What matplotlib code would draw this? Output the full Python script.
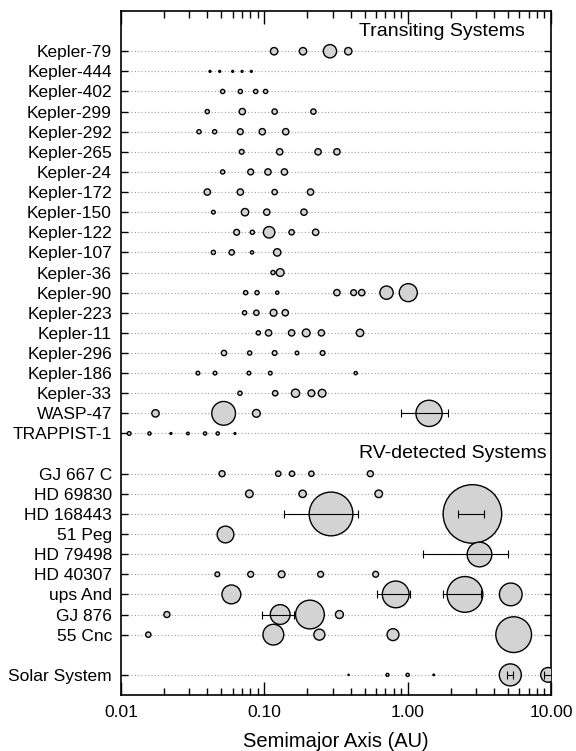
import numpy as np
import matplotlib
matplotlib.use('Agg')
import matplotlib.pyplot as plt
from matplotlib.ticker import FixedLocator, FixedFormatter, LogLocator, NullFormatter

plt.rcParams['font.family'] = ['Liberation Sans', 'DejaVu Sans']

# ---- Data: semimajor axis (AU), planet mass (Earth masses) ----
transit_systems = ['Kepler-79', 'Kepler-444', 'Kepler-402', 'Kepler-299',
                   'Kepler-292', 'Kepler-265', 'Kepler-24', 'Kepler-172',
                   'Kepler-150', 'Kepler-122', 'Kepler-107', 'Kepler-36',
                   'Kepler-90', 'Kepler-223', 'Kepler-11', 'Kepler-296',
                   'Kepler-186', 'Kepler-33', 'WASP-47', 'TRAPPIST-1']
rv_systems = ['GJ 667 C', 'HD 69830', 'HD 168443', '51 Peg', 'HD 79498',
              'HD 40307', 'ups And', 'GJ 876', '55 Cnc']
solar_systems = ['Solar System']

semimajor = {
    'Kepler-79': [0.117, 0.186, 0.287, 0.385],
    'Kepler-444': [0.0418, 0.0488, 0.0601, 0.0699, 0.0812],
    'Kepler-402': [0.0512, 0.068, 0.087, 0.102],
    'Kepler-299': [0.040, 0.0702, 0.118, 0.220],
    'Kepler-292': [0.035, 0.045, 0.068, 0.0968, 0.141],
    'Kepler-265': [0.0695, 0.128, 0.237, 0.321],
    'Kepler-24': [0.0512, 0.0803, 0.106, 0.138],
    'Kepler-172': [0.040, 0.068, 0.118, 0.210],
    'Kepler-150': [0.0441, 0.0733, 0.104, 0.189],
    'Kepler-122': [0.0641, 0.0825, 0.108, 0.155, 0.228],
    'Kepler-107': [0.0441, 0.0592, 0.082, 0.123],
    'Kepler-36': [0.115, 0.129],
    'Kepler-90': [0.0741, 0.0889, 0.123, 0.321, 0.420, 0.478, 0.712, 1.01],
    'Kepler-223': [0.0728, 0.088, 0.116, 0.140],
    'Kepler-11': [0.0908, 0.107, 0.155, 0.196, 0.250, 0.465],
    'Kepler-296': [0.0523, 0.079, 0.118, 0.169, 0.255],
    'Kepler-186': [0.0344, 0.0453, 0.0781, 0.110, 0.434],
    'Kepler-33': [0.0676, 0.119, 0.165, 0.213, 0.253],
    'WASP-47': [0.0174, 0.052, 0.088, 1.41],
    'TRAPPIST-1': [0.0114, 0.0158, 0.0223, 0.0293, 0.0386, 0.0473, 0.0624],
    'GJ 667 C': [0.0507, 0.125, 0.156, 0.213, 0.549],
    'HD 69830': [0.0786, 0.185, 0.628],
    'HD 168443': [0.292, 2.83],
    '51 Peg': [0.0532],
    'HD 79498': [3.13],
    'HD 40307': [0.047, 0.0803, 0.132, 0.247, 0.598],
    'ups And': [0.0589, 0.825, 2.51, 5.24],
    'GJ 876': [0.0209, 0.129, 0.208, 0.334],
    '55 Cnc': [0.0155, 0.1156, 0.242, 0.790, 5.49],
    'Solar System': [0.387, 0.723, 1.0, 1.52, 5.20, 9.54],
}

mass = {
    'Kepler-79': [12, 12, 70, 12],
    'Kepler-444': [0.2, 0.2, 0.2, 0.2, 0.2],
    'Kepler-402': [2.2, 2.2, 2.2, 2.2],
    'Kepler-299': [2.2, 7.5, 4.5, 4.5],
    'Kepler-292': [2.2, 2.2, 6, 7.5, 7.5],
    'Kepler-265': [3.2, 7.5, 7.5, 7.5],
    'Kepler-24': [2.2, 6, 7.5, 7.5],
    'Kepler-172': [7.5, 7.5, 4.5, 7.5],
    'Kepler-150': [1.5, 12, 7.5, 7.5],
    'Kepler-122': [6, 2.2, 45, 4.5, 7.5],
    'Kepler-107': [2.2, 4.5, 1.0, 12],
    'Kepler-36': [2.2, 14],
    'Kepler-90': [2.2, 2.2, 1.0, 7.5, 6, 7.5, 70, 175],
    'Kepler-223': [2.2, 4.5, 9.5, 7.5],
    'Kepler-11': [2.2, 7.5, 7.5, 14, 7.5, 12],
    'Kepler-296': [4.5, 2.2, 3.2, 1.5, 3.2],
    'Kepler-186': [1.5, 1.5, 1.5, 1.5, 1.0],
    'Kepler-33': [2.2, 4.5, 17, 9.5, 14],
    'WASP-47': [12, 400, 14, 540],
    'TRAPPIST-1': [1.5, 1.0, 0.2, 0.5, 1.0, 1.0, 0.2],
    'GJ 667 C': [6.5, 4.5, 4.5, 4.5, 6.5],
    'HD 69830': [13, 12, 13],
    'HD 168443': [2500, 6000],
    '51 Peg': [140],
    'HD 79498': [450],
    'HD 40307': [3.2, 6, 9.5, 6, 6],
    'ups And': [200, 570, 1360, 350],
    'GJ 876': [6.5, 230, 710, 15],
    '55 Cnc': [4.5, 267, 40, 50, 1360],
    'Solar System': [0.055, 0.815, 1.0, 0.107, 318, 95],
}

# eccentricity, only for orbits drawn with a periastron-apastron bar
ecc = {
    'WASP-47': [0, 0, 0, 0.36],
    'HD 168443': [0.53, 0.21],
    'HD 79498': [0.59],
    'ups And': [0, 0.26, 0.30, 0],
    'GJ 876': [0, 0.25, 0, 0],
    'Solar System': [0, 0, 0, 0, 0.05, 0.06],
}

# ---- Row layout: groups separated by one blank row ----
rows = {}
n_total = len(transit_systems) + len(rv_systems) + len(solar_systems) + 2
pos = n_total - 1
for group in (transit_systems, rv_systems, solar_systems):
    for name in group:
        rows[name] = pos
        pos -= 1
    pos -= 1

DPI = 100
fig = plt.figure(figsize=(5.76, 7.51), dpi=DPI)
ax = fig.add_axes([121 / 576, 1 - 695 / 751, 430 / 576, 684 / 751])

fill_color = '#d3d3d3'


def marker_area(m):
    # marker diameter scales with mass^(1/3) (Jupiter ~22 px)
    d_px = 22.0 * (np.asarray(m) / 318.0) ** (1.0 / 3.0)
    d_pt = d_px * 72.0 / DPI
    return d_pt ** 2


for name, y in rows.items():
    a = np.array(semimajor[name])
    m = np.array(mass[name])
    ax.scatter(a, np.full(len(a), y), s=marker_area(m), facecolor=fill_color,
               edgecolor='black', linewidths=1.0, zorder=3)
    if name in ecc:
        e = np.array(ecc[name])
        sel = e > 0
        ax.errorbar(a[sel], np.full(sel.sum(), y),
                    xerr=[a[sel] * e[sel], a[sel] * e[sel]],
                    fmt='none', ecolor='black', elinewidth=0.8,
                    capsize=2.6, capthick=0.8, zorder=4)

ax.set_xscale('log')
ax.set_xlim(0.01, 10)
ax.set_ylim(-1, n_total + 1)

names = list(rows.keys())
ax.set_yticks([rows[n] for n in names])
ax.set_yticklabels(names)
ax.grid(axis='y', color='#a0a0a0', linestyle=(0, (1, 2)), linewidth=0.8,
        zorder=1)
ax.set_axisbelow(True)

ax.xaxis.set_major_locator(FixedLocator([0.01, 0.1, 1, 10]))
ax.xaxis.set_major_formatter(FixedFormatter(['0.01', '0.10', '1.00', '10.00']))
ax.xaxis.set_minor_locator(LogLocator(base=10, subs=np.arange(2, 10)))
ax.xaxis.set_minor_formatter(NullFormatter())

ax.tick_params(axis='y', which='major', direction='in', left=True, right=True,
               length=5, width=1.0, labelsize=12.5, pad=6.5)
ax.tick_params(axis='x', which='major', direction='in', top=True, bottom=True,
               length=9.5, width=1.0, labelsize=12.5, pad=7)
ax.tick_params(axis='x', which='minor', direction='in', top=True, bottom=True,
               length=5, width=1.0)

for sp in ax.spines.values():
    sp.set_linewidth(1.2)

ax.set_xlabel('Semimajor Axis (AU)', fontsize=14.5, labelpad=9)

ax.text(6.59, n_total, 'Transiting Systems', ha='right', va='center',
        fontsize=14)
ax.text(9.35, rows[transit_systems[-1]] - 1, 'RV-detected Systems',
        ha='right', va='center', fontsize=14)

fig.savefig('out.png', dpi=DPI)
plt.close(fig)
